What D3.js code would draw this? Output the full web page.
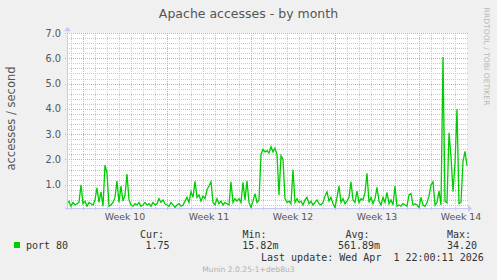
<!DOCTYPE html>
<html>
<head>
<meta charset="utf-8">
<script src="https://cdn.jsdelivr.net/npm/d3@7"></script>
<style>
  body { margin: 0; background: #f0f0f0; }
  svg { display: block; }
  text { font-family: "DejaVu Sans", sans-serif; }
  .mono { font-family: "DejaVu Sans Mono", monospace; white-space: pre; }
</style>
</head>
<body>
<div id="chartContainer"></div>
<script>

// period shown: 4 hour samples from Fri Feb 27 16:00 to Thu Apr 2 00:00
var startTime = Date.UTC(2026, 1, 27, 16)
var endTime = Date.UTC(2026, 3, 2, 0)
var stepHours = 4

var port80 = [
    0.25, 0.35, 0.15, 0.3, 0.2, 0.25, 0.3, 1.0, 0.25, 0.35,
    0.15, 0.3, 0.25, 0.2, 0.4, 0.88, 0.3, 0.72, 0.15, 1.78,
    1.45, 0.15, 0.2, 0.3, 0.5, 1.15, 0.3, 0.95, 0.35, 0.6,
    1.42, 0.4, 0.2, 0.15, 0.25, 0.2, 0.3, 0.15, 0.2, 0.3,
    0.2, 0.25, 0.15, 0.3, 0.2, 0.25, 0.45, 0.3, 0.4, 0.25,
    0.2, 0.15, 0.3, 0.2, 0.1, 0.2, 0.25, 0.15, 0.2, 0.35,
    0.5, 0.3, 0.72, 0.5, 1.13, 0.5, 0.6, 0.35, 0.55, 0.45,
    0.8, 0.95, 1.12, 0.3, 0.2, 0.45, 0.25, 0.35, 0.2, 0.3,
    0.25, 0.2, 1.12, 0.3, 0.45, 0.35, 0.45, 0.3, 1.1, 0.4,
    1.15, 0.3, 0.1, 0.35, 0.65, 0.3, 0.4, 2.2, 2.4, 2.3,
    2.35, 2.25, 2.5, 2.3, 2.45, 2.2, 0.6, 2.15, 2.0, 0.45,
    0.3, 0.35, 0.25, 1.6, 0.3, 0.45, 0.3, 0.35, 0.2, 0.4,
    0.5, 0.25, 0.35, 0.2, 0.3, 0.4, 0.25, 0.2, 0.3, 0.55,
    0.72, 0.35, 0.5, 0.25, 0.1, 0.5, 0.95, 0.3, 0.45, 0.25,
    0.35, 0.5, 1.12, 0.4, 0.3, 0.75, 0.3, 0.45, 0.4, 0.7,
    1.45, 0.3, 0.5, 0.25, 0.45, 0.9, 0.35, 0.2, 0.5, 0.3,
    0.7, 0.25, 0.4, 0.2, 0.95, 0.15, 0.2, 0.15, 0.25, 0.2,
    0.15, 0.6, 0.65, 0.2, 0.25, 0.2, 0.1, 0.5, 0.2, 0.15,
    0.3, 0.55, 0.99, 1.12, 0.2, 0.3, 0.75, 0.2, 6.05, 0.35,
    0.28, 3.05, 2.1, 0.72, 1.85, 3.99, 0.25, 0.3, 1.92, 2.32,
    1.75
]

var yTicks = [1.0, 2.0, 3.0, 4.0, 5.0, 6.0, 7.0]

var legendHeads = ['Cur:', 'Min:', 'Avg:', 'Max:']
var legendValues = ['1.75', '15.82m', '561.89m', '34.20']

var data = port80.map(function(v, i) {
    return { date: new Date(startTime + i * stepHours * 3600 * 1000), col: v }
})

var width = 497, height = 280
var plot = { left: 67, right: 467, top: 33, bottom: 208 }

var svg = d3.select('#chartContainer').append('svg')
    .attr('width', width)
    .attr('height', height)

svg.append('rect')
    .attr('width', width).attr('height', height)
    .attr('fill', '#f0f0f0')

svg.append('rect')
    .attr('x', plot.left).attr('y', plot.top)
    .attr('width', plot.right - plot.left).attr('height', plot.bottom - plot.top)
    .attr('fill', '#ffffff')

var xScale = d3.scaleUtc()
    .domain([new Date(startTime), new Date(endTime)])
    .range([plot.left, plot.right])

var yScale = d3.scaleLinear()
    .domain([0.08, 7.0])
    .range([plot.bottom, plot.top])

var gridG = svg.append('g').attr('class', 'grid')

// minor horizontal grid every 0.2
var minorY = d3.range(1, 36).map(function(k) { return k * 0.2 })
    .filter(function(v) { return Math.abs(v - Math.round(v)) > 0.01 })

gridG.selectAll('.hminor')
    .data(minorY)
    .enter().append('line')
    .attr('x1', plot.left).attr('x2', plot.right + 1)
    .attr('y1', function(d) { return Math.round(yScale(d)) + 0.5 })
    .attr('y2', function(d) { return Math.round(yScale(d)) + 0.5 })
    .attr('stroke', '#c8c8c8')
    .attr('stroke-dasharray', '1,1')

// minor vertical grid every day
var days = d3.utcDay.range(xScale.domain()[0], xScale.domain()[1])
    .filter(function(d) { return d.getUTCDay() !== 0 })

gridG.selectAll('.vminor')
    .data(days)
    .enter().append('line')
    .attr('x1', function(d) { return Math.round(xScale(d)) + 0.5 })
    .attr('x2', function(d) { return Math.round(xScale(d)) + 0.5 })
    .attr('y1', plot.top).attr('y2', plot.bottom + 2)
    .attr('stroke', '#c8c8c8')
    .attr('stroke-dasharray', '1,1')

gridG.selectAll('.hmajor')
    .data(yTicks)
    .enter().append('line')
    .attr('x1', plot.left - 2).attr('x2', plot.right + 1)
    .attr('y1', function(d) { return Math.round(yScale(d)) + 0.5 })
    .attr('y2', function(d) { return Math.round(yScale(d)) + 0.5 })
    .attr('stroke', '#f0a0a0')
    .attr('stroke-dasharray', '1,1')

var sundays = d3.utcSunday.range(xScale.domain()[0], xScale.domain()[1])

gridG.selectAll('.vmajor')
    .data(sundays)
    .enter().append('line')
    .attr('x1', function(d) { return Math.round(xScale(d)) + 0.5 })
    .attr('x2', function(d) { return Math.round(xScale(d)) + 0.5 })
    .attr('y1', plot.top).attr('y2', plot.bottom + 3)
    .attr('stroke', '#f0a0a0')
    .attr('stroke-dasharray', '1,1')

// y labels
svg.selectAll('.ylab')
    .data(yTicks)
    .enter().append('text')
    .attr('x', 61)
    .attr('y', function(d) { return yScale(d) + 3.6 })
    .attr('text-anchor', 'end')
    .attr('font-size', '9.8px')
    .attr('fill', '#555')
    .text(function(d) { return d.toFixed(1) })

// week labels at mid week
var formatWeek = d3.utcFormat('%V')
var weekMids = sundays.map(function(d) { return new Date(+d + 3.5 * 86400000) })
    .filter(function(d) { return d <= xScale.domain()[1] })

svg.selectAll('.xlab')
    .data(weekMids)
    .enter().append('text')
    .attr('x', function(d) { return xScale(d) })
    .attr('y', 220.3)
    .attr('text-anchor', 'middle')
    .attr('font-size', '9.4px')
    .attr('fill', '#555')
    .text(function(d) { return 'Week ' + (+formatWeek(d)) })

// the series
var line = d3.line()
    .x(function(d) { return xScale(d.date) })
    .y(function(d) { return yScale(d.col) })

svg.append('path')
    .datum(data)
    .attr('d', line)
    .attr('fill', 'none')
    .attr('stroke', '#00cc00')
    .attr('stroke-width', 1.3)
    .attr('stroke-linejoin', 'miter')

// axes with arrows
var axisColor = '#c8c8f8'
svg.append('line')
    .attr('x1', plot.left - 2).attr('x2', plot.right + 1)
    .attr('y1', plot.bottom + 0.5).attr('y2', plot.bottom + 0.5)
    .attr('stroke', axisColor)
svg.append('line')
    .attr('x1', plot.left + 0.5).attr('x2', plot.left + 0.5)
    .attr('y1', plot.bottom + 2).attr('y2', plot.top - 2)
    .attr('stroke', axisColor)
svg.append('path')
    .attr('d', 'M' + (plot.right + 1) + ',' + (plot.bottom - 3) + 'L' + (plot.right + 5) + ',' + (plot.bottom + 0.5) + 'L' + (plot.right + 1) + ',' + (plot.bottom + 4) + 'Z')
    .attr('fill', axisColor)
svg.append('path')
    .attr('d', 'M' + (plot.left - 3) + ',' + (plot.top - 2) + 'L' + (plot.left + 0.5) + ',' + (plot.top - 6) + 'L' + (plot.left + 4) + ',' + (plot.top - 2) + 'Z')
    .attr('fill', axisColor)

// title and labels
svg.append('text')
    .attr('x', 248.5).attr('y', 18.3)
    .attr('text-anchor', 'middle')
    .attr('font-size', '12.5px')
    .attr('fill', '#555')
    .text('Apache accesses - by month')

svg.append('text')
    .attr('transform', 'translate(14.5,118.5) rotate(-90)')
    .attr('text-anchor', 'middle')
    .attr('font-size', '11.5px')
    .attr('fill', '#555')
    .text('accesses / second')

svg.append('text')
    .attr('transform', 'translate(484,56.5) rotate(90)')
    .attr('text-anchor', 'middle')
    .attr('font-size', '7.6px')
    .attr('fill', '#b8b8b8')
    .text('RRDTOOL / TOBI OETIKER')

// legend
svg.append('rect')
    .attr('x', 14).attr('y', 242)
    .attr('width', 6).attr('height', 6)
    .attr('fill', '#00cc00')

svg.append('text').attr('class', 'mono')
    .attr('x', 26).attr('y', 249.3)
    .attr('font-size', '10px').attr('fill', '#333')
    .text('port 80')

var headX = [140, 242.5, 345.5, 447]
var valX = [145.5, 242.3, 338, 447]

svg.selectAll('.lhead')
    .data(legendHeads)
    .enter().append('text').attr('class', 'mono')
    .attr('x', function(d, i) { return headX[i] })
    .attr('y', 237.6)
    .attr('font-size', '10px').attr('fill', '#333')
    .text(function(d) { return d })

svg.selectAll('.lval')
    .data(legendValues)
    .enter().append('text').attr('class', 'mono')
    .attr('x', function(d, i) { return valX[i] })
    .attr('y', 249.3)
    .attr('font-size', '10px').attr('fill', '#333')
    .text(function(d) { return d })

svg.append('text').attr('class', 'mono')
    .attr('x', 261).attr('y', 261.3)
    .attr('font-size', '10px').attr('fill', '#333')
    .text('Last update: Wed Apr  1 22:00:11 2026')

svg.append('text')
    .attr('x', 248.5).attr('y', 272)
    .attr('text-anchor', 'middle')
    .attr('font-size', '7.6px')
    .attr('fill', '#b0b0b0')
    .text('Munin 2.0.25-1+deb8u3')

</script>
</body>
</html>
